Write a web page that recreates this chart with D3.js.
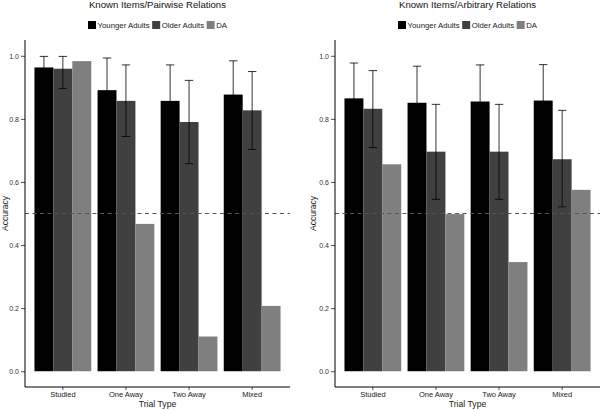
<!DOCTYPE html>
<html>
<head>
<meta charset="utf-8">
<script src="https://cdn.jsdelivr.net/npm/d3@7"></script>
<style>
  html, body { margin: 0; padding: 0; background: #fff; }
  svg { display: block; font-family: "Liberation Sans", Arial, Helvetica, sans-serif; }
</style>
</head>
<body>
<svg id="chart" width="600" height="410"></svg>
<script>
// ---- data ----
const categories = ["Studied", "One Away", "Two Away", "Mixed"];
const series = ["Younger Adults", "Older Adults", "DA"];
const seriesColors = ["#000000", "#404040", "#7f7f7f"];
const yTicks = [0.0, 0.2, 0.4, 0.6, 0.8, 1.0];
const panelTitles = ["Known Items/Pairwise Relations", "Known Items/Arbitrary Relations"];

// Pairwise panel
const pairYoung = [0.963, 0.891, 0.857, 0.877];
const pairYoungLo = [0.926, 0.789, 0.743, 0.770];
const pairYoungHi = [0.998, 0.993, 0.971, 0.984];
const pairOld = [0.959, 0.857, 0.790, 0.827];
const pairOldLo = [0.896, 0.744, 0.658, 0.703];
const pairOldHi = [0.998, 0.971, 0.922, 0.950];
const pairDA = [0.983, 0.467, 0.110, 0.207];

// Arbitrary panel
const arbYoung = [0.865, 0.851, 0.855, 0.858];
const arbYoungLo = [0.753, 0.735, 0.739, 0.744];
const arbYoungHi = [0.977, 0.967, 0.971, 0.972];
const arbOld = [0.832, 0.696, 0.696, 0.672];
const arbOldLo = [0.709, 0.545, 0.545, 0.521];
const arbOldHi = [0.953, 0.846, 0.846, 0.827];
const arbDA = [0.656, 0.498, 0.346, 0.575];

const chanceLevel = 0.5;

// ---- build ----
const panels = [
  { title: panelTitles[0], left: 25, right: 290,
    values: [pairYoung, pairOld, pairDA],
    lo: [pairYoungLo, pairOldLo, null], hi: [pairYoungHi, pairOldHi, null],
    ylabX: 5 },
  { title: panelTitles[1], left: 335, right: 600,
    values: [arbYoung, arbOld, arbDA],
    lo: [arbYoungLo, arbOldLo, null], hi: [arbYoungHi, arbOldHi, null],
    ylabX: 313 }
];

const svg = d3.select("#chart");
const plotTop = 40, plotBottom = 387;
const y = d3.scaleLinear().domain([-0.05, 1.05]).range([plotBottom, plotTop]);

panels.forEach(p => {
  const g = svg.append("g");
  const x0 = d3.scaleBand().domain(categories).range([p.left, p.right])
    .paddingInner(0.1).paddingOuter(0.15);
  const x1 = d3.scaleBand().domain(series).range([0, x0.bandwidth()]).padding(0);
  const color = d3.scaleOrdinal().domain(series).range(seriesColors);

  // bars
  series.forEach((s, si) => {
    g.selectAll(null).data(categories).enter().append("rect")
      .attr("x", c => x0(c) + x1(s))
      .attr("width", x1.bandwidth())
      .attr("y", (c, ci) => y(p.values[si][ci]))
      .attr("height", (c, ci) => y(0) - y(p.values[si][ci]))
      .attr("fill", color(s));
  });

  // error bars
  series.forEach((s, si) => {
    if (!p.lo[si]) return;
    const cap = 4.2;
    categories.forEach((c, ci) => {
      const cx = x0(c) + x1(s) + x1.bandwidth() / 2;
      const lo = y(p.lo[si][ci]), hi = y(p.hi[si][ci]);
      const eg = g.append("g").attr("stroke", "#000").attr("stroke-width", 0.8).attr("fill", "none");
      eg.append("line").attr("x1", cx).attr("x2", cx).attr("y1", lo).attr("y2", hi);
      eg.append("line").attr("x1", cx - cap).attr("x2", cx + cap).attr("y1", hi).attr("y2", hi);
      eg.append("line").attr("x1", cx - cap).attr("x2", cx + cap).attr("y1", lo).attr("y2", lo);
    });
  });

  // chance line
  g.append("line")
    .attr("x1", p.left).attr("x2", p.right)
    .attr("y1", y(chanceLevel)).attr("y2", y(chanceLevel))
    .attr("stroke", "#555").attr("stroke-width", 1.1)
    .attr("stroke-dasharray", "4,3.5");

  // y axis
  const yAxis = d3.axisLeft(y).tickValues(yTicks).tickFormat(d3.format(".1f")).tickSize(4).tickPadding(2);
  const ya = g.append("g").attr("transform", `translate(${p.left},0)`).call(yAxis);
  ya.select(".domain").remove();
  ya.selectAll(".tick line").attr("stroke", "#222").attr("stroke-width", 0.8);
  ya.selectAll(".tick text").attr("fill", "#333").style("font-size", "7px")
    .style("font-family", "Liberation Sans, Arial, sans-serif");
  g.append("line").attr("x1", p.left).attr("x2", p.left).attr("y1", plotTop).attr("y2", plotBottom)
    .attr("stroke", "#000").attr("stroke-width", 1);

  // x axis
  const xAxis = d3.axisBottom(x0).tickSize(3).tickPadding(2);
  const xa = g.append("g").attr("transform", `translate(0,${plotBottom})`).call(xAxis);
  xa.select(".domain").remove();
  xa.selectAll(".tick line").attr("stroke", "#222").attr("stroke-width", 0.8);
  xa.selectAll(".tick text").attr("fill", "#222").style("font-size", "7.5px")
    .style("font-family", "Liberation Sans, Arial, sans-serif");
  g.append("line").attr("x1", p.left).attr("x2", p.right).attr("y1", plotBottom).attr("y2", plotBottom)
    .attr("stroke", "#000").attr("stroke-width", 1);

  const cxPanel = (p.left + p.right) / 2;
  // x title
  g.append("text").attr("x", cxPanel).attr("y", 407).attr("text-anchor", "middle")
    .style("font-size", "8.7px").attr("fill", "#222").text("Trial Type");
  // y title
  g.append("text").attr("transform", `translate(${p.ylabX + 3},${(plotTop + plotBottom) / 2}) rotate(-90)`)
    .attr("text-anchor", "middle").style("font-size", "8.5px").attr("fill", "#222").text("Accuracy");
  // title
  g.append("text").attr("x", cxPanel).attr("y", 8).attr("text-anchor", "middle")
    .style("font-size", "9.6px").attr("fill", "#111").text(p.title);

  // legend
  const lg = g.append("g");
  let xpos = 0;
  series.forEach((s, si) => {
    const it = lg.append("g").attr("transform", `translate(${xpos},0)`);
    it.append("rect").attr("x", 0).attr("y", 21).attr("width", 8).attr("height", 8).attr("fill", seriesColors[si]);
    const t = it.append("text").attr("x", 9.5).attr("y", 27.8).style("font-size", "7.8px").attr("fill", "#222").text(s);
    const tw = t.node().getComputedTextLength();
    xpos += 9.5 + tw + 2.5;
  });
  const total = xpos - 2.5;
  lg.attr("transform", `translate(${cxPanel - total / 2},0)`);
});
</script>
</body>
</html>
